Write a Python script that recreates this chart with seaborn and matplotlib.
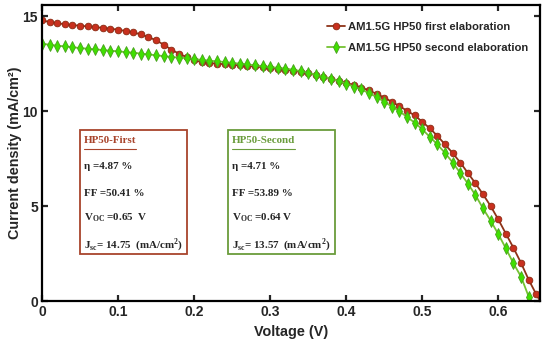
import matplotlib
matplotlib.use('Agg')
import matplotlib.pyplot as plt
import seaborn as sns
from matplotlib.patches import Rectangle

# J-V data (0.01 V steps)
voltage = [0.00, 0.01, 0.02, 0.03, 0.04, 0.05, 0.06, 0.07, 0.08, 0.09,
           0.10, 0.11, 0.12, 0.13, 0.14, 0.15, 0.16, 0.17, 0.18, 0.19,
           0.20, 0.21, 0.22, 0.23, 0.24, 0.25, 0.26, 0.27, 0.28, 0.29,
           0.30, 0.31, 0.32, 0.33, 0.34, 0.35, 0.36, 0.37, 0.38, 0.39,
           0.40, 0.41, 0.42, 0.43, 0.44, 0.45, 0.46, 0.47, 0.48, 0.49,
           0.50, 0.51, 0.52, 0.53, 0.54, 0.55, 0.56, 0.57, 0.58, 0.59,
           0.60, 0.61, 0.62, 0.63, 0.64, 0.65, 0.655]

j_first = [14.80, 14.70, 14.65, 14.58, 14.54, 14.51, 14.47, 14.44, 14.39, 14.35,
           14.30, 14.23, 14.16, 14.05, 13.91, 13.74, 13.51, 13.25, 13.04, 12.85,
           12.70, 12.60, 12.55, 12.51, 12.48, 12.45, 12.42, 12.39, 12.36, 12.32,
           12.28, 12.24, 12.20, 12.14, 12.08, 12.00, 11.92, 11.82, 11.72, 11.62,
           11.50, 11.38, 11.25, 11.10, 10.92, 10.72, 10.50, 10.27, 10.03, 9.78,
           9.45, 9.10, 8.70, 8.25, 7.80, 7.30, 6.75, 6.20, 5.62, 5.00,
           4.30, 3.55, 2.80, 2.00, 1.12, 0.35, 0.0]

j_second = [13.56, 13.51, 13.46, 13.42, 13.38, 13.33, 13.30, 13.26, 13.23, 13.19,
            13.16, 13.12, 13.09, 13.04, 13.00, 12.95, 12.91, 12.86, 12.83, 12.80,
            12.75, 12.71, 12.67, 12.63, 12.60, 12.55, 12.51, 12.47, 12.42, 12.38,
            12.33, 12.29, 12.25, 12.19, 12.12, 12.03, 11.93, 11.83, 11.72, 11.60,
            11.46, 11.30, 11.15, 10.95, 10.75, 10.50, 10.25, 10.00, 9.70, 9.40,
            9.05, 8.65, 8.25, 7.80, 7.30, 6.75, 6.19, 5.58, 4.88, 4.23,
            3.53, 2.77, 1.98, 1.28, 0.23]

labels = ['AM1.5G HP50 first elaboration', 'AM1.5G HP50 second elaboration']
x_ticks = [0, 0.1, 0.2, 0.3, 0.4, 0.5, 0.6]
y_ticks = [0, 5, 10, 15]

box_titles = ['HP50-First', 'HP50-Second']
box_eta = ['4.87 %', '4.71 %']
box_ff = ['50.41 %', '53.89 %']
box_voc = ['0.65  V', '0.64 V']
box_jsc = [' 14.75', ' 13.57']

sns.set_style('ticks')
plt.rcParams['font.family'] = ['Liberation Sans', 'DejaVu Sans']
plt.rcParams['mathtext.fontset'] = 'custom'
plt.rcParams['mathtext.rm'] = 'Liberation Serif'
plt.rcParams['mathtext.bf'] = 'Liberation Serif:bold'

fig = plt.figure(figsize=(5.5, 3.46), dpi=100)
ax = fig.add_axes([0.0764, 0.130, 0.9056, 0.8555])

red_line, red_face = '#8e3318', '#c8301e'
green_line, green_face = '#74c232', '#3fe000'

# red markers only on the 0.01 V grid, the last point just closes the line
sns.lineplot(x=voltage, y=j_first, ax=ax, color=red_line, linewidth=1.3,
             marker='o', markersize=4.8, markerfacecolor=red_face,
             markeredgecolor='#8a2a12', markeredgewidth=0.6,
             markevery=list(range(len(j_first) - 1)), label=labels[0])
sns.lineplot(x=voltage[:len(j_second)], y=j_second, ax=ax, color=green_line,
             linewidth=1.3, marker='d', markersize=5.8, markerfacecolor=green_face,
             markeredgecolor='#4aa020', markeredgewidth=0.6, label=labels[1])

ax.set_xlim(0, 0.655)
ax.set_ylim(0, 15.6)
ax.set_xticks(x_ticks)
ax.set_xticklabels(['0', '0.1', '0.2', '0.3', '0.4', '0.5', '0.6'])
ax.set_yticks(y_ticks)
ax.tick_params(direction='in', length=4, width=1.6, labelsize=10,
               top=True, right=True, pad=3)
for lab in ax.get_xticklabels() + ax.get_yticklabels():
    lab.set_fontweight('bold')
for sp in ax.spines.values():
    sp.set_linewidth(1.6)
    sp.set_color('black')

ax.set_xlabel('Voltage (V)', fontsize=10.4, fontweight='bold', labelpad=4)
ax.set_ylabel('Current density (mA/cm²)', fontsize=10.4, fontweight='bold', labelpad=0.5)

ax.legend(loc='upper right', bbox_to_anchor=(0.985, 0.958), frameon=False,
          handlelength=1.6, handletextpad=0.25, labelspacing=0.95,
          borderaxespad=0.0, prop={'weight': 'bold', 'size': 8.1})

# parameter boxes
box_colors = ['#a8442c', '#6a9c3c']
box_x = [0.050, 0.245]
rows = [7.15, 5.76, 4.44, 3.03]
font = dict(fontsize=7.9, fontweight='bold', family='Liberation Serif', va='baseline')
titles = []
for i in range(2):
    ax.add_patch(Rectangle((box_x[i], 2.48), 0.14, 6.55, fill=False,
                           edgecolor=box_colors[i], linewidth=1.3, zorder=4))
    tx = box_x[i] + 0.005
    t = ax.text(tx, 8.33, box_titles[i], color=box_colors[i], **font)
    titles.append(t)
    ax.text(tx, rows[0] - 0.2, 'η =' + box_eta[i], **font)
    ax.text(tx, rows[1] - 0.2, 'FF =' + box_ff[i], **font)
    ax.text(tx, rows[2] - 0.2, r'V$_{\mathbf{OC}}$ =' + box_voc[i], **font)
    ax.text(tx, rows[3] - 0.2, r'J$_{\mathbf{sc}}$=' + box_jsc[i] +
            r'  (mA/cm$^{\mathbf{2}}$)', **font)

# underline the box titles
fig.canvas.draw()
inv = ax.transData.inverted()
for i, t in enumerate(titles):
    bb = t.get_window_extent()
    (x0, _), (x1, _) = inv.transform([[bb.x0, bb.y0], [bb.x1, bb.y0]])
    ax.plot([x0, x1], [8.33 - 0.32, 8.33 - 0.32], color=box_colors[i], linewidth=0.8)

fig.savefig('out.png', dpi=100)
